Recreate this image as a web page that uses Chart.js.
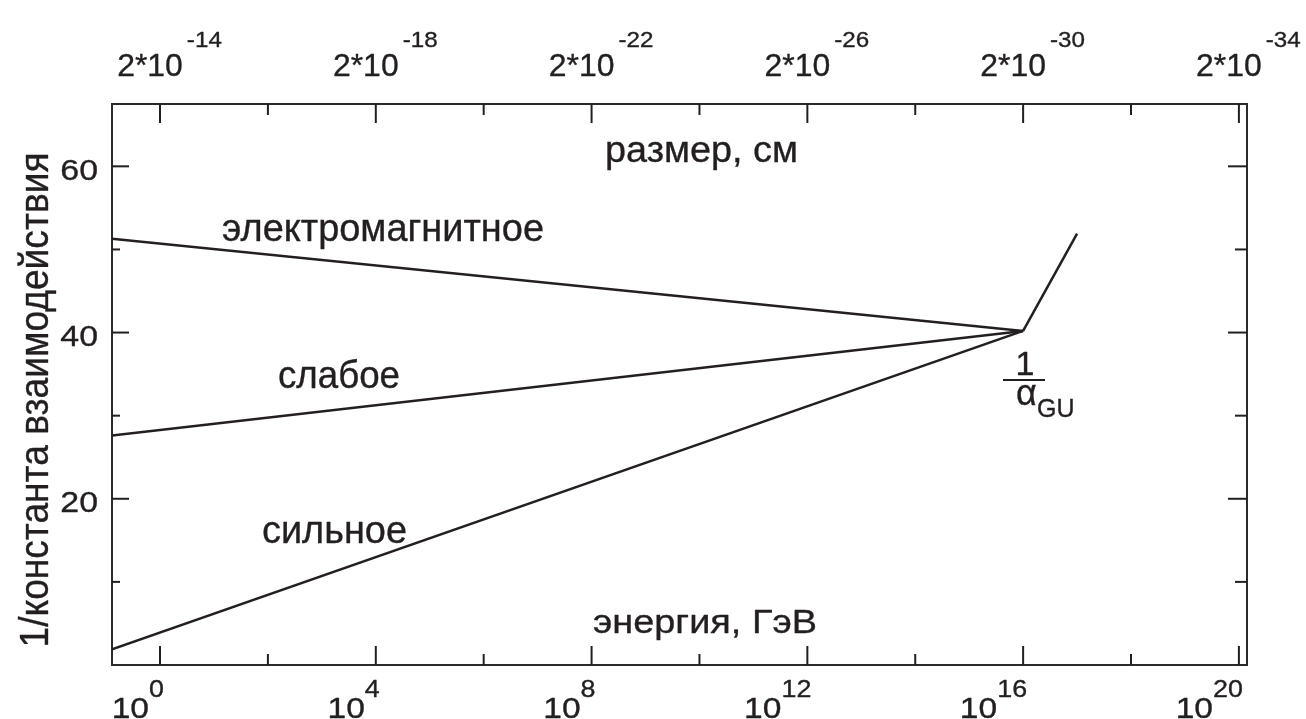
<!DOCTYPE html>
<html>
<head>
<meta charset="utf-8">
<script src="https://cdn.jsdelivr.net/npm/chart.js@4"></script>
<style>
  html, body { margin: 0; padding: 0; background: #fff; }
  #wrap { width: 1306px; height: 719px; }
</style>
</head>
<body>
<div id="wrap"><canvas id="chart" width="1306" height="719"></canvas></div>
<script>
// ======= Data =======
// x values are log10(E / GeV), y values are 1/coupling
const lineExp = [-0.89, 16];
const emValues = [51.3, 40.2];
const weakValues = [27.6, 40.2];
const strongValues = [1.9, 40.2];
const unifiedExp = [16, 17];
const unifiedValues = [40.2, 51.9];

// ======= Axes =======
const energyTicks = [0, 4, 8, 12, 16, 20];
const energyMinor = [2, 6, 10, 14, 18];
const sizeExps = [-14, -18, -22, -26, -30, -34];
const yTicks = [20, 40, 60];
const yMinor = [10, 30, 50];
const xMin = -0.89, xMax = 20.15, yMin = 0, yMax = 67.5;

const ink = "#231f20";
const FONT = '"Liberation Sans", Arial, sans-serif';

function pts(xs, ys) {
  return xs.map((x, i) => ({ x: x, y: ys[i] }));
}

// draw text, optionally stretched to a target width
function txt(ctx, s, x, y, size, o = {}) {
  ctx.save();
  ctx.font = size + "px " + FONT;
  const w = ctx.measureText(s).width;
  const sx = o.width ? o.width / w : (o.sx || 1);
  ctx.translate(x, y);
  if (o.rot) ctx.rotate(o.rot);
  ctx.scale(sx, 1);
  ctx.textAlign = o.align || "left";
  ctx.textBaseline = "alphabetic";
  ctx.fillStyle = ink;
  ctx.strokeStyle = ink;
  ctx.lineWidth = 0.35;
  ctx.lineJoin = "round";
  ctx.fillText(s, 0, 0);
  ctx.strokeText(s, 0, 0);
  ctx.restore();
  return w * sx;
}

function seg(ctx, x1, y1, x2, y2) {
  ctx.beginPath();
  ctx.moveTo(x1, y1);
  ctx.lineTo(x2, y2);
  ctx.stroke();
}

function textWidth(ctx, s, size, sx) {
  ctx.save();
  ctx.font = size + "px " + FONT;
  const w = ctx.measureText(s).width * sx;
  ctx.restore();
  return w;
}

// ======= Ticks, labels, annotations =======
const decor = {
  id: "decor",
  afterDraw(chart) {
    const ctx = chart.ctx, a = chart.chartArea;
    const xs = chart.scales.x, ys = chart.scales.y;
    ctx.save();
    ctx.strokeStyle = ink;
    ctx.lineWidth = 2;

    // inward tick marks
    energyTicks.forEach(v => {
      const px = xs.getPixelForValue(v);
      seg(ctx, px, a.bottom, px, a.bottom - 19);
      seg(ctx, px, a.top, px, a.top + 19);
    });
    energyMinor.forEach(v => {
      const px = xs.getPixelForValue(v);
      seg(ctx, px, a.bottom, px, a.bottom - 11);
      seg(ctx, px, a.top, px, a.top + 11);
    });
    yTicks.forEach(v => {
      const py = ys.getPixelForValue(v);
      seg(ctx, a.left, py, a.left + 17, py);
      seg(ctx, a.right, py, a.right - 19, py);
    });
    yMinor.forEach(v => {
      const py = ys.getPixelForValue(v);
      seg(ctx, a.left, py, a.left + 8, py);
      seg(ctx, a.right, py, a.right - 12, py);
    });

    // y tick labels
    yTicks.forEach(v => {
      const py = ys.getPixelForValue(v);
      txt(ctx, String(v), 98, py + 13.5, 29, { sx: 1.17, align: "right" });
    });

    // bottom energy labels 10^n
    energyTicks.forEach(v => {
      const px = xs.getPixelForValue(v);
      const sup = String(v);
      const sw = textWidth(ctx, sup, 24, 1.12);
      const x0 = px + 4 - sw;
      txt(ctx, "10", x0, 718, 30, { sx: 1.12, align: "right" });
      txt(ctx, sup, x0, 697, 24, { sx: 1.12 });
    });

    // top size labels 2*10^n
    energyTicks.forEach((v, i) => {
      const px = xs.getPixelForValue(v);
      const c = px - 10;
      const mw = textWidth(ctx, "2*10", 31, 1.03);
      txt(ctx, "2*10", c, 76, 31, { sx: 1.03, align: "center" });
      txt(ctx, String(sizeExps[i]), c + mw / 2 + 4, 47, 22, { sx: 1.1 });
    });

    // axis titles
    txt(ctx, "1/константа взаимодействия", 48, 400, 41, { width: 495, rot: -Math.PI / 2, align: "center" });
    txt(ctx, "размер, см", 605, 162, 36, { width: 193 });
    txt(ctx, "энергия, ГэВ", 593, 633, 34, { width: 224 });

    // curve labels
    txt(ctx, "электромагнитное", 222, 241, 38, { width: 322 });
    txt(ctx, "слабое", 278, 388, 38, { width: 122 });
    txt(ctx, "сильное", 262, 543, 38, { width: 145 });

    // 1 / alpha_GU
    txt(ctx, "1", 1025, 375, 34, { align: "center" });
    seg(ctx, 1003, 380, 1045, 380);
    txt(ctx, "α", 1016, 405, 36);
    txt(ctx, "GU", 1037, 417, 25);

    ctx.restore();
  }
};

const lineStyle = {
  showLine: true,
  borderColor: ink,
  borderWidth: 2.5,
  pointRadius: 0,
  fill: false,
  tension: 0
};

const frameBorder = { display: true, color: "#2b2b2b", width: 2 };

const chart = new Chart(document.getElementById("chart"), {
  type: "scatter",
  data: {
    datasets: [
      { label: "электромагнитное", data: pts(lineExp, emValues), ...lineStyle },
      { label: "слабое", data: pts(lineExp, weakValues), ...lineStyle },
      { label: "сильное", data: pts(lineExp, strongValues), ...lineStyle },
      { label: "объединённое", data: pts(unifiedExp, unifiedValues), ...lineStyle }
    ]
  },
  options: {
    responsive: false,
    animation: false,
    devicePixelRatio: 1,
    layout: { padding: { left: 112, right: 59, top: 104, bottom: 54 } },
    plugins: { legend: { display: false }, tooltip: { enabled: false } },
    scales: {
      x: {
        type: "linear", position: "bottom", min: xMin, max: xMax,
        ticks: { display: false }, grid: { display: false, drawTicks: false }, border: frameBorder
      },
      x2: {
        type: "linear", position: "top", min: xMin, max: xMax,
        ticks: { display: false }, grid: { display: false, drawTicks: false }, border: frameBorder
      },
      y: {
        type: "linear", position: "left", min: yMin, max: yMax,
        ticks: { display: false }, grid: { display: false, drawTicks: false }, border: frameBorder
      },
      y2: {
        type: "linear", position: "right", min: yMin, max: yMax,
        ticks: { display: false }, grid: { display: false, drawTicks: false }, border: frameBorder
      }
    }
  },
  plugins: [decor]
});
</script>
</body>
</html>
